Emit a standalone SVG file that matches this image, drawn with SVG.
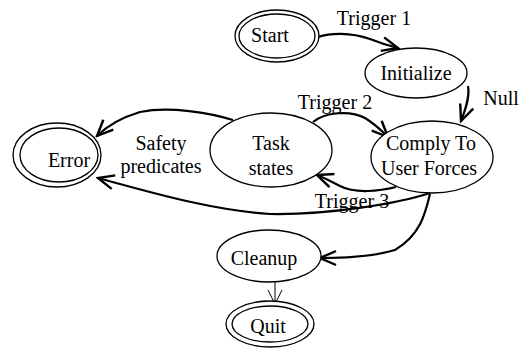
<svg xmlns="http://www.w3.org/2000/svg" width="522" height="353" viewBox="0 0 522 353">
<style>
.n{fill:#fff;stroke:#000;stroke-width:1.3}
.t{font-family:"Liberation Serif","Times New Roman",serif;font-size:20px;fill:#000;text-anchor:middle}
.e{fill:none;stroke:#000;stroke-width:2.2}
.thin{fill:none;stroke:#000;stroke-width:1}
</style>
<defs>
<marker id="a" viewBox="-18 -9 20 18" markerWidth="20" markerHeight="18" refX="0" refY="0" orient="auto" markerUnits="userSpaceOnUse">
<path d="M-16,-7 L0,0 L-16,7" fill="none" stroke="#000" stroke-width="2.4"/>
</marker>
<marker id="b" viewBox="-14 -8 16 16" markerWidth="16" markerHeight="16" refX="0" refY="0" orient="auto" markerUnits="userSpaceOnUse">
<path d="M-14,-7 L0,0 L-14,7" fill="none" stroke="#000" stroke-width="1"/>
</marker>
</defs>
<g id="connectors">
<path class="e" d="M318,37 C330,33 350,32 370,39 C380,43 390,46 398,48" marker-end="url(#a)"/>
<path class="e" d="M468,86 C470,96 466,108 461,121" marker-end="url(#a)"/>
<path class="e" d="M313,122 C325,112 350,110 365,118 C375,124 381,130 388,137" marker-end="url(#a)"/>
<path class="e" d="M396,187 C380,191 355,194 340,186 C332,182 325,178 317,175" marker-end="url(#a)"/>
<path class="e" d="M233,120 C210,113 170,106 140,112 C120,118 108,125 97,136" marker-end="url(#a)"/>
<path class="e" d="M430,193 C400,203 330,215 270,214 C210,210 150,192 98,178" marker-end="url(#a)"/>
<path class="e" d="M430,194 C425,215 420,235 395,250 C375,256 345,258 320,258" marker-end="url(#a)"/>
<path class="thin" d="M275,282 L275,304" marker-end="url(#b)"/>
<text class="t" x="374" y="25">Trigger 1</text>
<text class="t" x="501" y="105">Null</text>
<text class="t" x="335" y="109">Trigger 2</text>
<text class="t" x="352" y="208">Trigger 3</text>
<text class="t" x="161" y="150">Safety</text>
<text class="t" x="161" y="173">predicates</text>
</g>
<g id="start">
<ellipse class="n" cx="277" cy="36" rx="42" ry="26"/>
<ellipse class="n" cx="277" cy="36" rx="38" ry="22"/>
<text class="t" x="270" y="42">Start</text>
</g>
<g id="initialize">
<ellipse class="n" cx="416" cy="73" rx="51" ry="25"/>
<text class="t" x="416" y="80">Initialize</text>
</g>
<g id="comply">
<ellipse class="n" cx="432" cy="157" rx="61" ry="36"/>
<text class="t" x="431" y="150">Comply To</text>
<text class="t" x="429" y="175">User Forces</text>
</g>
<g id="task">
<ellipse class="n" cx="271" cy="150" rx="61" ry="37"/>
<text class="t" x="271" y="150">Task</text>
<text class="t" x="271" y="175">states</text>
</g>
<g id="error">
<ellipse class="n" cx="57" cy="155" rx="44" ry="32"/>
<ellipse class="n" cx="59" cy="155" rx="39" ry="27"/>
<text class="t" x="69" y="167">Error</text>
</g>
<g id="cleanup">
<ellipse class="n" cx="269" cy="256" rx="52" ry="26"/>
<text class="t" x="264" y="265">Cleanup</text>
</g>
<g id="quit">
<ellipse class="n" cx="270" cy="324" rx="44" ry="23"/>
<ellipse class="n" cx="270" cy="324" rx="38" ry="18"/>
<text class="t" x="268" y="333">Quit</text>
</g>
</svg>
